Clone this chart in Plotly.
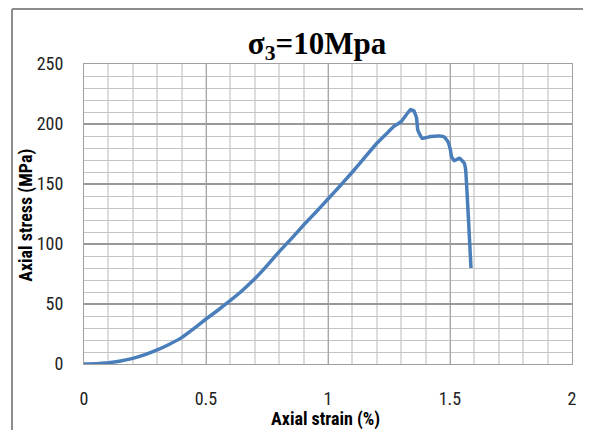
import plotly.graph_objects as go

strain = [0.0, 0.05, 0.10, 0.15, 0.20, 0.25, 0.30, 0.35, 0.40, 0.45, 0.50, 0.55, 0.60, 0.65,
          0.70, 0.75, 0.80, 0.85, 0.90, 0.95, 1.00, 1.05, 1.10, 1.15, 1.20, 1.25, 1.27, 1.30,
          1.338, 1.352, 1.363, 1.368, 1.386, 1.42, 1.457, 1.478, 1.492, 1.502, 1.506, 1.517,
          1.539, 1.558, 1.564, 1.586]
stress = [0.0, 0.3, 1.1, 2.5, 4.7, 7.8, 11.7, 16.5, 22.0, 29.5, 37.5, 45.0, 53.0, 61.5,
          71.0, 82.0, 93.6, 104.5, 115.8, 126.5, 137.5, 148.5, 160.0, 172.0, 184.0, 194.0, 198.0, 202.0,
          212.0, 211.0, 205.0, 195.0, 188.0, 189.5, 190.0, 189.0, 185.0, 178.0, 173.0, 169.4,
          171.5, 167.5, 162.0, 80.0]

x_ticks = [0, 0.5, 1, 1.5, 2]
x_tick_text = ["0", "0.5", "1", "1.5", "2"]
y_ticks = [0, 50, 100, 150, 200, 250]

title_text = "<b>σ<sub>3</sub>=10Mpa</b>"
x_title = "Axial strain (%)"
y_title = "Axial stress (MPa)"

tick_font = dict(family="Liberation Sans Narrow, Roboto Condensed, Roboto, sans-serif", size=18, color="#222222")
x_title_font = dict(family="Liberation Sans Narrow, Roboto Condensed, Liberation Sans, sans-serif", size=18, color="#000000")
y_title_font = dict(family="Liberation Sans Narrow, Roboto Condensed, Liberation Sans, sans-serif", size=18, color="#000000")

fig = go.Figure()
fig.add_trace(go.Scatter(x=strain, y=stress, mode="lines",
                         line=dict(color="#4a7ebb", width=3.5, shape="spline", smoothing=0.3),
                         showlegend=False, hoverinfo="skip"))

# the page adds an 8px body margin, so the figure is 8px smaller on each side
fig.update_layout(
    width=583, height=422,
    margin=dict(l=76, r=19, t=56, b=66),
    paper_bgcolor="white", plot_bgcolor="white",
    title=dict(text=title_text, x=0.53, xanchor="center", y=0.917, yanchor="middle",
               font=dict(family="Liberation Serif, Times New Roman, serif", size=31, color="#000000")),
    shapes=[
        dict(type="line", xref="paper", yref="paper", x0=-0.1475, x1=1.06, y0=1.1833, y1=1.1833,
             line=dict(color="#8c8c8c", width=2)),
        dict(type="line", xref="paper", yref="paper", x0=-0.1475, x1=-0.1475, y0=1.1833, y1=-0.25,
             line=dict(color="#8c8c8c", width=2)),
    ],
    annotations=[
        dict(text="<b>" + x_title + "</b>", xref="paper", yref="paper", x=0.494, y=-0.183,
             xanchor="center", yanchor="middle", showarrow=False, font=x_title_font),
        dict(text="<b>" + y_title + "</b>", xref="paper", yref="paper", x=-0.119, y=0.497,
             xanchor="center", yanchor="middle", showarrow=False, textangle=-90, font=y_title_font),
    ],
)

fig.update_xaxes(
    range=[0, 2], tickvals=x_ticks, ticktext=x_tick_text, ticks="",
    tickfont=tick_font, ticklabelstandoff=18, automargin=False,
    showgrid=True, gridcolor="#a6a6a6", gridwidth=1,
    minor=dict(dtick=0.1, showgrid=True, gridcolor="#dcdcdc", gridwidth=1.5),
    showline=True, linecolor="#a0a0a0", linewidth=1, mirror=True, zeroline=False,
)
fig.update_yaxes(
    range=[0, 250], tickvals=y_ticks, ticks="",
    tickfont=tick_font, ticklabelstandoff=16, automargin=False,
    showgrid=True, gridcolor="#999999", gridwidth=1.5,
    minor=dict(dtick=10, showgrid=True, gridcolor="#c4c4c4", gridwidth=1),
    showline=True, linecolor="#a0a0a0", linewidth=1, mirror=True, zeroline=False,
)

fig.write_html("out.html")
